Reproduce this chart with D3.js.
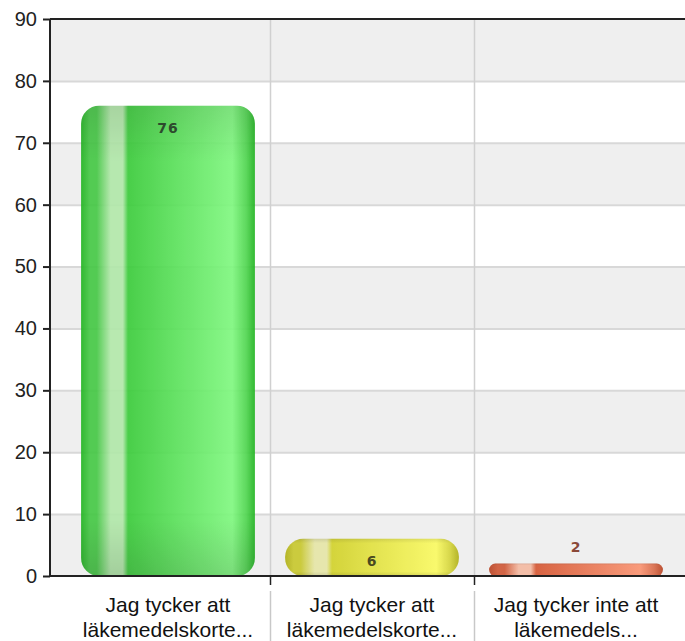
<!DOCTYPE html>
<html><head><meta charset="utf-8">
<script src="https://cdn.jsdelivr.net/npm/d3@7"></script>
<style>body{margin:0;background:#fff;}svg{display:block;}</style>
</head><body>
<script>
const categories = ["Jag tycker att läkemedelskortet...", "Jag tycker att läkemedelskortet ...", "Jag tycker inte att läkemedelskortet..."];
const categoryLines = [["Jag tycker att","läkemedelskorte..."],["Jag tycker att","läkemedelskorte..."],["Jag tycker inte att","läkemedels..."]];
const values = [76, 6, 2];
const yTicks = [0,10,20,30,40,50,60,70,80,90];
const palettes = [
  {edge:"#22b422", pre:"#46c846", hi:"#b2e8aa", mid:"#3ccc3c", light:"#80f880", label:"#2d4a2d"},
  {edge:"#b0b018", pre:"#c8c830", hi:"#e6e6a8", mid:"#d2d22c", light:"#fafa62", label:"#4a4a20"},
  {edge:"#b84424", pre:"#d05a38", hi:"#f4baa2", mid:"#d65834", light:"#fa9472", label:"#8a4838"}
];
(function(){
const W=685,H=641;
const svg=d3.select("body").append("svg").attr("width",W).attr("height",H);
const left=50, topY=19, bottom=576;
const y=d3.scaleLinear().domain([0,90]).range([bottom,topY]);
const x=d3.scaleBand().domain(categories).range([66,678]).padding(0);
const defs=svg.append("defs");

const bands=d3.range(0,90,10);
svg.append("g").selectAll("rect").data(bands).join("rect")
  .attr("x",left).attr("width",W-left)
  .attr("y",d=>y(d+10)).attr("height",d=>y(d)-y(d+10))
  .attr("fill",(d,i)=>i%2===0?"#efefef":"#ffffff");
svg.append("g").selectAll("line").data(yTicks.slice(1,-1)).join("line")
  .attr("x1",left).attr("x2",W).attr("y1",d=>y(d)+0.5).attr("y2",d=>y(d)+0.5)
  .attr("stroke","#d8d8d8").attr("stroke-width",2);
const bounds=categories.slice(0,-1).map(c=>x(c)+x.bandwidth());
svg.append("g").selectAll("line").data(bounds).join("line")
  .attr("x1",d=>Math.round(d)+0.5).attr("x2",d=>Math.round(d)+0.5).attr("y1",topY).attr("y2",bottom)
  .attr("stroke","#d0d0d0").attr("stroke-width",1.5);

const inset=x.bandwidth()*0.074;
values.forEach((v,i)=>{
  const p=palettes[i];
  const g=defs.append("linearGradient").attr("id","g"+i).attr("x1","0").attr("x2","1").attr("y1","0").attr("y2","0");
  [[0,p.edge],[0.05,p.pre],[0.09,p.pre],[0.17,p.hi],[0.24,p.hi],[0.27,p.mid],[0.5,d3.interpolateRgb(p.mid,p.light)(0.4)],[0.87,p.light],[0.95,d3.interpolateRgb(p.light,p.edge)(0.5)],[1,p.edge]]
    .forEach(s=>g.append("stop").attr("offset",s[0]).attr("stop-color",s[1]));
  const vg=defs.append("linearGradient").attr("id","v"+i).attr("x1","0").attr("x2","0").attr("y1","0").attr("y2","1");
  [[0,"#000",0.1],[0.12,"#000",0],[0.88,"#000",0],[1,"#000",0.12]].forEach(s=>vg.append("stop").attr("offset",s[0]).attr("stop-color",s[1]).attr("stop-opacity",s[2]));
});
const c=categories;
const bx=d=>x(d)+inset, bw=x.bandwidth()-2*inset;
const barG=svg.append("g").attr("opacity",0.92);
const rr=d=>Math.min(18,(bottom-y(d))/2);
barG.selectAll("rect.b").data(values).join("rect").attr("class","b")
  .attr("x",(d,i)=>bx(c[i])).attr("width",bw)
  .attr("y",d=>y(d)).attr("height",d=>bottom-y(d))
  .attr("rx",rr).attr("ry",rr)
  .attr("fill",(d,i)=>`url(#g${i})`);
barG.selectAll("rect.o").data(values).join("rect").attr("class","o")
  .attr("x",(d,i)=>bx(c[i])).attr("width",bw)
  .attr("y",d=>y(d)).attr("height",d=>bottom-y(d))
  .attr("rx",rr).attr("ry",rr)
  .attr("fill",(d,i)=>`url(#v${i})`);

svg.append("g").selectAll("text").data(values).join("text")
  .attr("x",(d,i)=>x(c[i])+x.bandwidth()/2)
  .attr("y",d=> (bottom-y(d))>30 ? y(d)+27 : (bottom-y(d))>20 ? (y(d)+bottom)/2+6 : y(d)-12)
  .attr("text-anchor","middle")
  .attr("font-family","DejaVu Sans, sans-serif").attr("font-weight","bold").attr("font-size",14)
  .attr("letter-spacing",1)
  .attr("fill",(d,i)=>palettes[i].label).text(d=>d);

const ya=d3.axisLeft(y).tickValues(yTicks).tickSize(7).tickPadding(6);
const yg=svg.append("g").attr("transform",`translate(${left},0)`).call(ya);
yg.select(".domain").remove();
yg.selectAll(".tick line").attr("stroke","#222").attr("stroke-width",2);
yg.selectAll("text").attr("font-family","Liberation Sans, Arial, sans-serif").attr("font-size",20).attr("fill","#222");
svg.append("line").attr("x1",left).attr("x2",left).attr("y1",topY).attr("y2",bottom+1).attr("stroke","#222").attr("stroke-width",2);
svg.append("line").attr("x1",left).attr("x2",W).attr("y1",bottom).attr("y2",bottom).attr("stroke","#222").attr("stroke-width",2);
svg.append("line").attr("x1",left).attr("x2",W).attr("y1",topY).attr("y2",topY).attr("stroke","#222").attr("stroke-width",2);
svg.append("g").selectAll("line").data(bounds).join("line")
  .attr("x1",d=>Math.round(d)+0.5).attr("x2",d=>Math.round(d)+0.5).attr("y1",bottom).attr("y2",bottom+9)
  .attr("stroke","#222").attr("stroke-width",1.5);
svg.append("g").selectAll("line").data(bounds).join("line")
  .attr("x1",d=>Math.round(d)+0.5).attr("x2",d=>Math.round(d)+0.5).attr("y1",bottom+15).attr("y2",H)
  .attr("stroke","#c8c8c8").attr("stroke-width",1.5);
const xl=svg.append("g").selectAll("text").data(categoryLines).join("text")
  .attr("text-anchor","middle")
  .attr("font-family","Liberation Sans, Arial, sans-serif").attr("font-size",21).attr("fill","#111");
xl.each(function(d,i){
  const t=d3.select(this);
  d.forEach((ln,j)=>t.append("tspan").attr("x",x(c[i])+x.bandwidth()/2).attr("y",612+j*25).text(ln));
});
})();
</script>
</body></html>
